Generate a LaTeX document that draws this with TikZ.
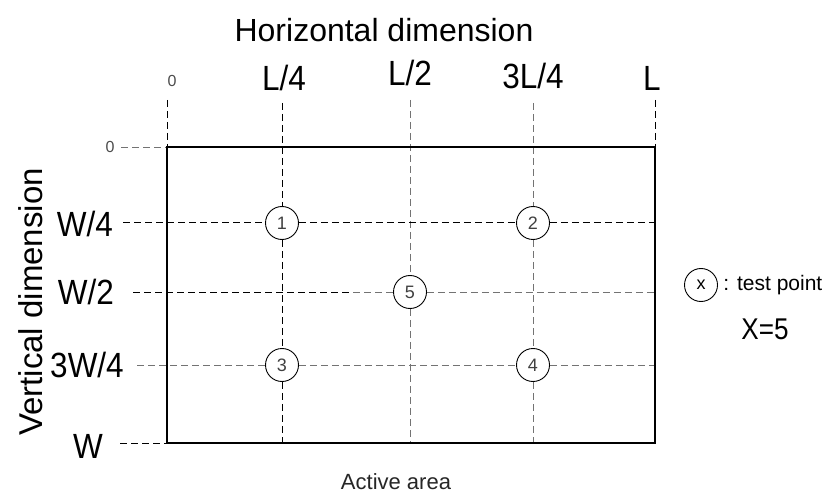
\documentclass[tikz,border=0pt]{standalone}
\usepackage{fontspec}
\setmainfont{Liberation Sans}
\usetikzlibrary{positioning}

\tikzset{
  grid dark/.style={black, line width=1pt, dash pattern=on 7pt off 4pt},
  grid light/.style={black!55, line width=0.8pt, dash pattern=on 7pt off 4pt},
  testpt/.style={circle, draw, line width=0.9pt, minimum size=33pt, inner sep=0pt,
    font=\fontsize{18}{18}\selectfont, text=black!75},
  dimlabel/.style={font=\fontsize{35}{35}\selectfont, xscale=0.9},
  zerolabel/.style={font=\fontsize{16}{16}\selectfont, text=black!70},
}

\begin{document}
\begin{tikzpicture}[x=1pt, y=-1pt]
\useasboundingbox (0,0) rectangle (823,500);

% grid ends
\coordinate (top0) at (167,100);
\coordinate (top1) at (282,103);
\coordinate (top2) at (410,100);
\coordinate (top3) at (533,103);
\coordinate (top4) at (655,100);
\coordinate (left0) at (121,147);
\coordinate (left1) at (123,223);
\coordinate (left2) at (133,292);
\coordinate (left3) at (137,365);
\coordinate (left4) at (120,443);
\coordinate (nw) at (167,147);
\coordinate (ne) at (655,147);
\coordinate (sw) at (167,443);
\coordinate (se) at (655,443);
\coordinate (bot1) at (282,443);
\coordinate (bot2) at (410,443);
\coordinate (bot3) at (533,443);
\coordinate (right1) at (655,223);
\coordinate (right2) at (655,292);
\coordinate (right3) at (655,365);
\coordinate (mid2) at (353,292);

% test points
\node[testpt] (p1) at (282,223) {1};
\node[testpt] (p2) at (533,223) {2};
\node[testpt] (p3) at (282,365) {3};
\node[testpt] (p4) at (533,365) {4};
\node[testpt] (p5) at (410,292) {5};

% grid lines
\draw[grid dark] (top0) -- (nw);
\draw[grid dark] (top4) -- (ne);
\draw[grid dark] (top1) -- (p1) (p1) -- (p3) (p3) -- (bot1);
\draw[grid light] (top2) -- (p5) (p5) -- (bot2);
\draw[grid light] (top3) -- (p2) (p2) -- (p4) (p4) -- (bot3);
\draw[grid light] (left0) -- (nw);
\draw[grid dark] (left1) -- (p1) (p1) -- (p2) (p2) -- (right1);
\draw[grid dark] (left2) -- (mid2);
\draw[grid light] (mid2) -- (p5) (p5) -- (right2);
\draw[grid light] (left3) -- (p3) (p3) -- (p4) (p4) -- (right3);
\draw[grid dark] (left4) -- (sw);

% active area
\draw[line width=2.5pt] (nw) rectangle (se);

% horizontal labels
\node[font=\fontsize{32}{32}\selectfont] (htitle) at (384,30) {Horizontal dimension};
\node[zerolabel] (hzero) at (172,81) {0};
\node[dimlabel] (hquarter) at (284,78) {L/4};
\node[dimlabel] (hhalf) at (410,73) {L/2};
\node[dimlabel] (hthree) at (533,76) {3L/4};
\node[dimlabel] (hfull) at (652,78) {L};

% vertical labels
\node[font=\fontsize{33}{33}\selectfont, rotate=90] (vtitle) at (31,302) {Vertical dimension};
\node[zerolabel] (vzero) at (110,147) {0};
\node[dimlabel] (vquarter) at (85,224) {W/4};
\node[dimlabel] (vhalf) at (86,292) {W/2};
\node[dimlabel] (vthree) at (87,365) {3W/4};
\node[dimlabel] (vfull) at (88,446) {W};

\node[font=\fontsize{22}{22}\selectfont, text=black!85] (area) at (396,482) {Active area};

% legend
\node[testpt, text=black] (legpt) at (701,285) {x};
\node[font=\fontsize{21}{21}\selectfont, right=2pt of legpt] (legtext) {: test point};
\node[font=\fontsize{30}{30}\selectfont, xscale=0.87] (legnum) at (765,329) {X=5};
\end{tikzpicture}
\end{document}
